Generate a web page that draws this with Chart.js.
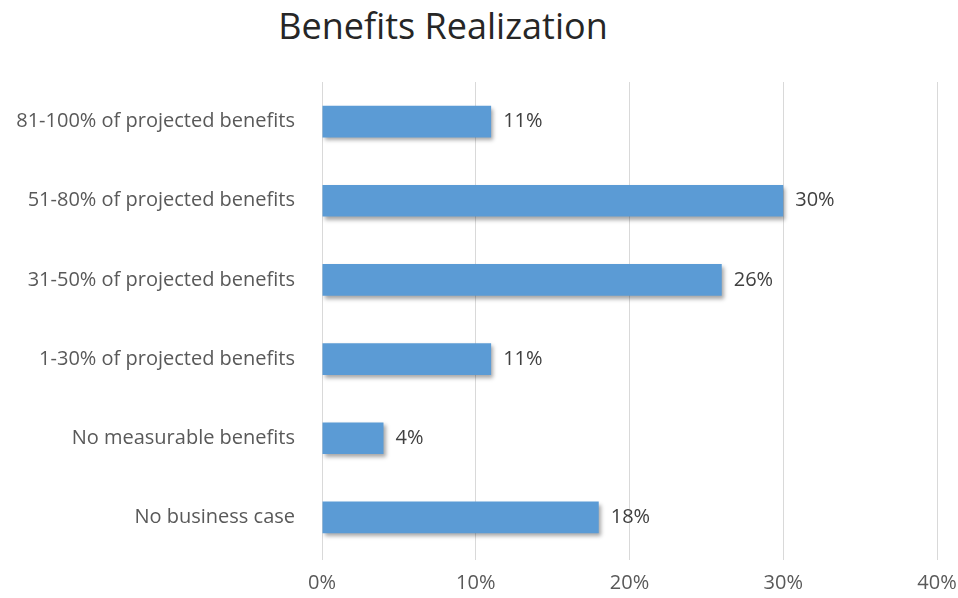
<!DOCTYPE html>
<html>
<head>
<meta charset="utf-8">
<title>Benefits Realization</title>
<script src="https://cdn.jsdelivr.net/npm/chart.js@4.4.1/dist/chart.umd.min.js"></script>
<style>
  html, body { margin: 0; padding: 0; background: #fff; }
  #wrap { position: relative; width: 958px; height: 598px; }
  #title {
    position: absolute; left: 0; top: 8px; width: 886px;
    text-align: center; font: 36px 'Open Sans', sans-serif; line-height: 36px;
    color: #262626; margin: 0; font-weight: normal;
  }
  #chart { position: absolute; left: 0; top: 0; }
</style>
</head>
<body>
<div id="wrap">
  <h1 id="title">Benefits Realization</h1>
  <canvas id="chart" width="958" height="598"></canvas>
</div>
<script>
const categories = [
    '81-100% of projected benefits',
    '51-80% of projected benefits',
    '31-50% of projected benefits',
    '1-30% of projected benefits',
    'No measurable benefits',
    'No business case'
];
const shares = [11, 30, 26, 11, 4, 18];
const xTicks = [0, 10, 20, 30, 40];

const FONT = "'Open Sans', sans-serif";

// soft drop shadow under the bars only
const barShadow = {
    id: 'barShadow',
    beforeDatasetsDraw(c) {
        const ctx = c.ctx;
        ctx.save();
        ctx.shadowColor = 'rgba(0, 0, 0, 0.35)';
        ctx.shadowBlur = 4;
        ctx.shadowOffsetX = 2;
        ctx.shadowOffsetY = 3;
    },
    afterDatasetsDraw(c) {
        c.ctx.restore();
    }
};

// percentage label to the right of each bar
const valueLabels = {
    id: 'valueLabels',
    afterDatasetsDraw(c) {
        const ctx = c.ctx;
        const meta = c.getDatasetMeta(0);
        ctx.save();
        ctx.font = '20px ' + FONT;
        ctx.fillStyle = '#404040';
        ctx.textAlign = 'left';
        ctx.textBaseline = 'middle';
        meta.data.forEach((bar, i) => {
            ctx.fillText(shares[i] + '%', bar.x + 12, bar.y);
        });
        ctx.restore();
    }
};

new Chart(document.getElementById('chart'), {
    type: 'bar',
    data: {
        labels: categories,
        datasets: [{
            data: shares,
            backgroundColor: '#5B9BD5',
            borderWidth: 0,
            barPercentage: 0.4,
            categoryPercentage: 1
        }]
    },
    options: {
        indexAxis: 'y',
        responsive: false,
        animation: false,
        layout: { padding: { top: 82, right: 21, bottom: 0, left: 0 } },
        plugins: {
            legend: { display: false },
            tooltip: { enabled: false }
        },
        scales: {
            x: {
                min: 0,
                max: 40,
                afterBuildTicks(scale) {
                    scale.ticks = xTicks.map(v => ({ value: v }));
                },
                afterFit(scale) {
                    scale.height = 41;
                    scale.paddingRight = 0;
                },
                border: { display: false },
                grid: { color: '#d9d9d9', lineWidth: 1, tickLength: 3 },
                ticks: {
                    padding: 11,
                    color: '#595959',
                    font: { family: FONT, size: 20 },
                    callback: v => v + '%'
                }
            },
            y: {
                afterFit(scale) { scale.width = 322; },
                border: { display: false },
                grid: { display: false, drawTicks: false },
                ticks: {
                    padding: 27,
                    color: '#595959',
                    font: { family: FONT, size: 20 }
                }
            }
        }
    },
    plugins: [barShadow, valueLabels]
});
</script>
</body>
</html>
